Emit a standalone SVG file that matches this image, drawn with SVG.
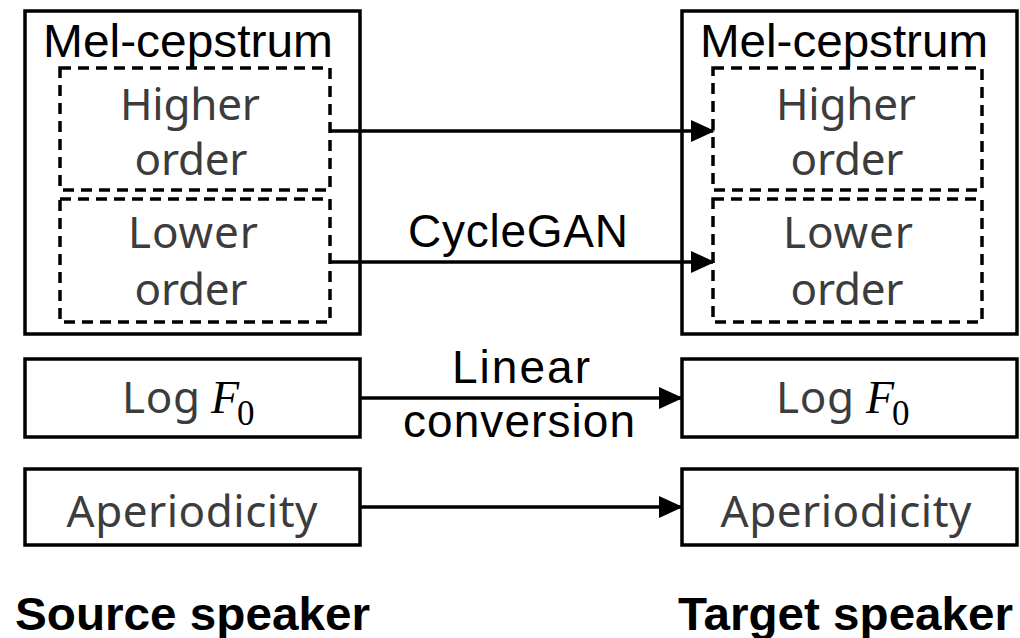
<svg xmlns="http://www.w3.org/2000/svg" width="1020" height="638" viewBox="0 0 1020 638">
  <defs>
    <marker id="arrow" markerUnits="userSpaceOnUse" markerWidth="24" markerHeight="22" refX="22" refY="11" orient="auto">
      <path d="M0,0 L24,11 L0,22 Z" fill="#000"/>
    </marker>
    <style>
      .box { fill: #fff; stroke: #000; stroke-width: 3.5; }
      .dash { fill: none; stroke: #000; stroke-width: 3.5; stroke-dasharray: 11 7; }
      .title { font-family: "Liberation Sans", Arial, sans-serif; font-size: 46px; fill: #000; text-anchor: middle; }
      .label { font-family: "Noto Sans", "Noto Sans CJK JP", sans-serif; font-size: 44px; fill: #3c3c3c; text-anchor: middle; }
      .math { font-family: "Liberation Serif", "Times New Roman", serif; fill: #000; }
      .speaker { font-family: "Liberation Sans", Arial, sans-serif; font-weight: bold; font-size: 46px; fill: #000; }
      .conn { stroke: #000; stroke-width: 3.5; fill: none; marker-end: url(#arrow); }
    </style>
  </defs>

  <rect width="1020" height="638" fill="#fff"/>

  <!-- Source side -->
  <g id="src-mcep">
    <rect class="box" x="25" y="11" width="335" height="323"/>
    <text class="title" x="188" y="57" textLength="290" lengthAdjust="spacingAndGlyphs">Mel-cepstrum</text>
  </g>
  <g id="src-higher">
    <rect class="dash" x="60" y="68" width="270" height="122"/>
    <text class="label" x="190" y="120" textLength="140">Higher</text>
    <text class="label" x="191" y="175" textLength="113">order</text>
  </g>
  <g id="src-lower">
    <rect class="dash" x="60" y="199" width="270" height="123"/>
    <text class="label" x="193" y="248" textLength="130">Lower</text>
    <text class="label" x="191" y="305" textLength="113">order</text>
  </g>
  <g id="src-logf0">
    <rect class="box" x="25" y="359" width="335" height="78"/>
    <text class="label" x="161" y="413" textLength="78">Log</text>
    <text class="math" x="211" y="413" font-size="46" font-style="italic">F</text>
    <text class="math" x="237" y="425" font-size="35">0</text>
  </g>
  <g id="src-ap">
    <rect class="box" x="25" y="469" width="335" height="76"/>
    <text class="label" x="192" y="527" textLength="251">Aperiodicity</text>
  </g>

  <!-- Target side -->
  <g id="tgt-mcep">
    <rect class="box" x="682" y="11" width="335" height="323"/>
    <text class="title" x="844" y="57" textLength="288" lengthAdjust="spacingAndGlyphs">Mel-cepstrum</text>
  </g>
  <g id="tgt-higher">
    <rect class="dash" x="713" y="68" width="269" height="122"/>
    <text class="label" x="846" y="120" textLength="140">Higher</text>
    <text class="label" x="847" y="175" textLength="113">order</text>
  </g>
  <g id="tgt-lower">
    <rect class="dash" x="713" y="199" width="269" height="123"/>
    <text class="label" x="848" y="248" textLength="130">Lower</text>
    <text class="label" x="847" y="305" textLength="113">order</text>
  </g>
  <g id="tgt-logf0">
    <rect class="box" x="682" y="359" width="335" height="78"/>
    <text class="label" x="815" y="413" textLength="78">Log</text>
    <text class="math" x="866" y="413" font-size="46" font-style="italic">F</text>
    <text class="math" x="892" y="425" font-size="35">0</text>
  </g>
  <g id="tgt-ap">
    <rect class="box" x="682" y="469" width="335" height="76"/>
    <text class="label" x="846" y="527" textLength="251">Aperiodicity</text>
  </g>

  <!-- Conversions between source and target features -->
  <g id="connectors">
    <line class="conn" x1="330" y1="131" x2="713" y2="131"/>
    <line class="conn" x1="330" y1="262" x2="713" y2="262"/>
    <line class="conn" x1="360" y1="398" x2="681" y2="398"/>
    <line class="conn" x1="360" y1="507" x2="681" y2="507"/>
    <text class="title" x="518" y="247" textLength="220">CycleGAN</text>
    <text class="title" x="521" y="383" textLength="138">Linear</text>
    <text class="title" x="519" y="437" textLength="232">conversion</text>
  </g>

  <text class="speaker" x="15" y="630" textLength="355" lengthAdjust="spacingAndGlyphs">Source speaker</text>
  <text class="speaker" x="678" y="630" textLength="335" lengthAdjust="spacingAndGlyphs">Target speaker</text>
</svg>
